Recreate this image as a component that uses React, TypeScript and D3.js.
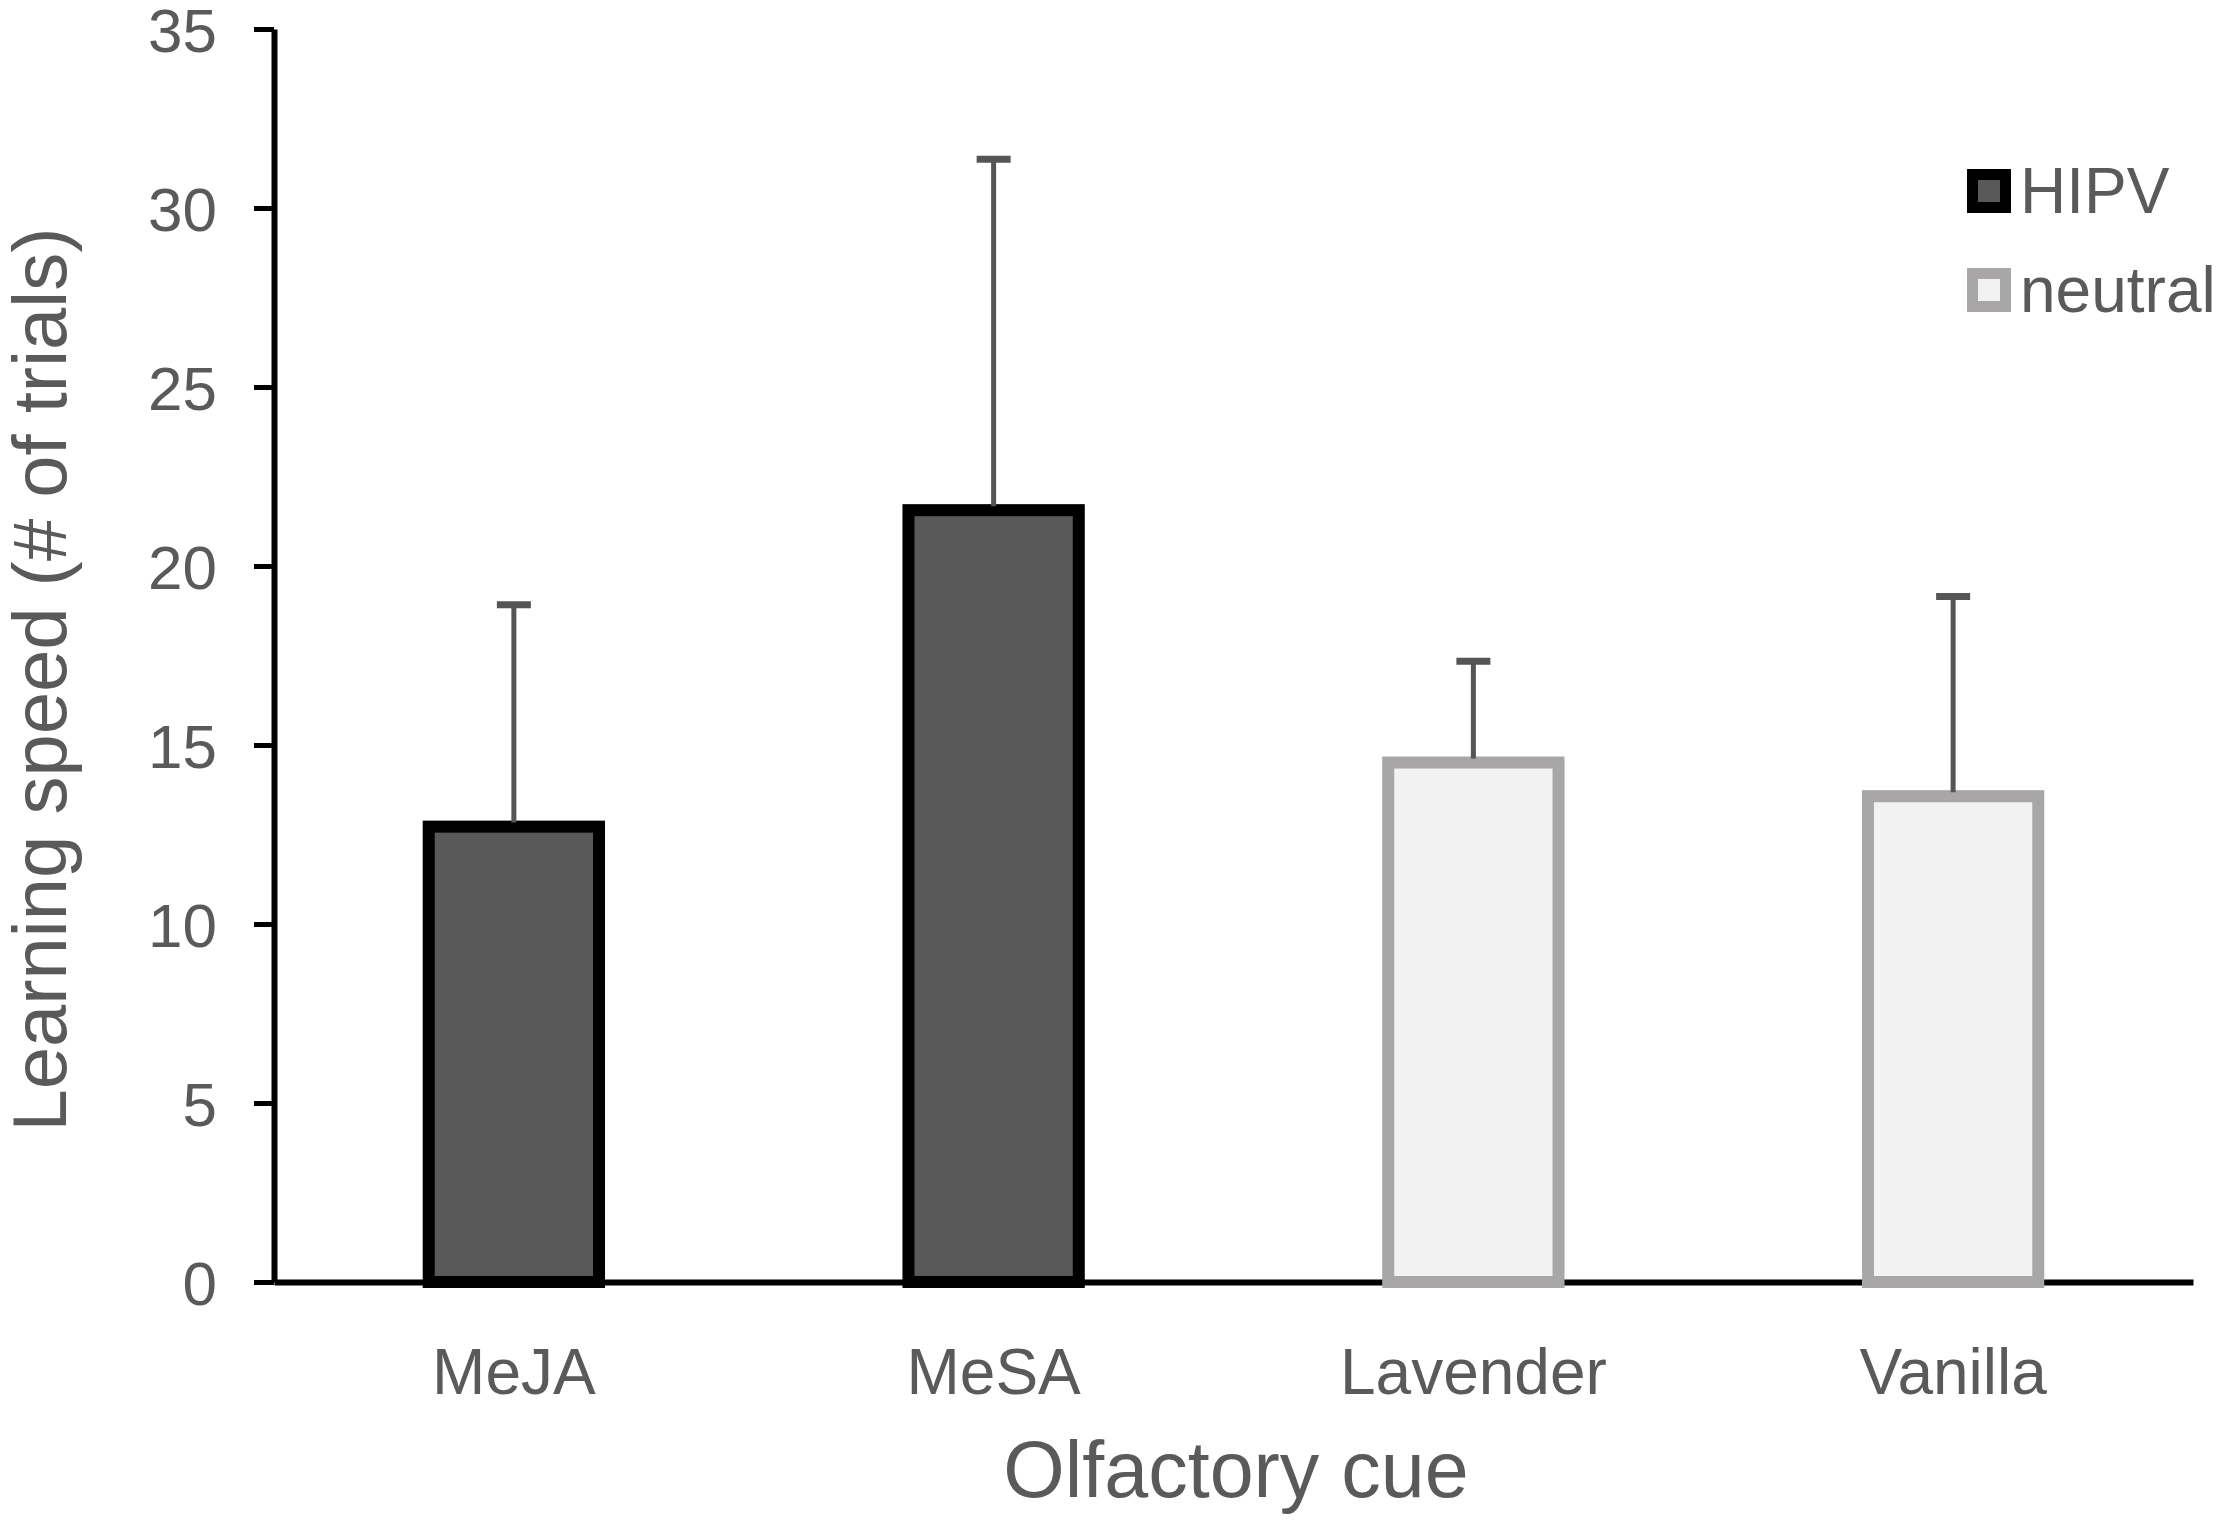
import { useEffect, useRef } from "react";
import * as d3 from "d3";

const CUES = ["MeJA", "MeSA", "Lavender", "Vanilla"];
const GROUPS = ["HIPV", "HIPV", "neutral", "neutral"];
const MEANS = [12.72, 21.56, 14.51, 13.57];
const UPPER = [18.92, 31.36, 17.34, 19.15];
const Y_TICKS = [0, 5, 10, 15, 20, 25, 30, 35];
const LEGEND = ["HIPV", "neutral"];

const FILL: Record<string, string> = { HIPV: "#595959", neutral: "#f2f2f2" };
const EDGE: Record<string, string> = { HIPV: "#000000", neutral: "#a8a6a6" };

const TEXT = "#5a5a5a";
const FONT = "'Liberation Sans', Arial, sans-serif";

export default function App() {
  const ref = useRef<SVGSVGElement | null>(null);

  useEffect(() => {
    if (!ref.current) {
      return;
    }
    document.body.style.margin = "0";

    const svg = d3.select(ref.current);
    svg.selectAll("*").remove();

    const width = 2219;
    const height = 1521;
    const margin = { top: 29, right: 26, bottom: 239, left: 274 };

    const x = d3
      .scaleBand<string>()
      .domain(CUES)
      .range([margin.left, width - margin.right])
      .paddingInner(0.645)
      .paddingOuter(0.3225);

    const y = d3
      .scaleLinear()
      .domain([0, 35])
      .range([height - margin.bottom, margin.top]);

    svg.attr("viewBox", `0 0 ${width} ${height}`);

    // y axis
    svg
      .append("g")
      .attr("transform", `translate(${margin.left},0)`)
      .call(
        d3
          .axisLeft(y)
          .tickValues(Y_TICKS)
          .tickSize(20)
          .tickSizeOuter(0)
          .tickPadding(37)
      )
      .call((g) => g.select(".domain").attr("stroke", "#000").attr("stroke-width", 6))
      .call((g) => g.selectAll(".tick line").attr("stroke", "#000").attr("stroke-width", 5))
      .call((g) =>
        g
          .selectAll("text")
          .attr("fill", TEXT)
          .style("font-family", FONT)
          .style("font-size", "62px")
          .attr("dy", "0.36em")
      );

    // x axis
    svg
      .append("g")
      .attr("transform", `translate(0,${y(0)})`)
      .call(d3.axisBottom(x).tickSize(0).tickSizeOuter(0))
      .call((g) => g.select(".domain").attr("stroke", "#000").attr("stroke-width", 6))
      .call((g) =>
        g
          .selectAll("text")
          .attr("fill", TEXT)
          .style("font-family", FONT)
          .style("font-size", "64px")
          .attr("y", 112)
          .attr("dy", 0)
      );

    // bars
    svg
      .append("g")
      .selectAll("rect")
      .data(CUES)
      .enter()
      .append("rect")
      .attr("x", (d) => x(d) ?? 0)
      .attr("y", (_, i) => y(MEANS[i]))
      .attr("width", x.bandwidth())
      .attr("height", (_, i) => y(0) - y(MEANS[i]))
      .attr("fill", (_, i) => FILL[GROUPS[i]])
      .attr("stroke", (_, i) => EDGE[GROUPS[i]])
      .attr("stroke-width", 12);

    // error bars (upper only)
    const err = svg.append("g").attr("stroke", "#555555");
    err
      .selectAll("line.stem")
      .data(CUES)
      .enter()
      .append("line")
      .attr("class", "stem")
      .attr("x1", (d) => (x(d) ?? 0) + x.bandwidth() / 2)
      .attr("x2", (d) => (x(d) ?? 0) + x.bandwidth() / 2)
      .attr("y1", (_, i) => y(MEANS[i]) - 4)
      .attr("y2", (_, i) => y(UPPER[i]))
      .attr("stroke-width", 5);
    err
      .selectAll("line.cap")
      .data(CUES)
      .enter()
      .append("line")
      .attr("class", "cap")
      .attr("x1", (d) => (x(d) ?? 0) + x.bandwidth() / 2 - 17)
      .attr("x2", (d) => (x(d) ?? 0) + x.bandwidth() / 2 + 17)
      .attr("y1", (_, i) => y(UPPER[i]))
      .attr("y2", (_, i) => y(UPPER[i]))
      .attr("stroke-width", 7);

    // axis titles
    svg
      .append("text")
      .text("Olfactory cue")
      .attr("x", 1236)
      .attr("y", 1497)
      .attr("text-anchor", "middle")
      .attr("fill", TEXT)
      .style("font-family", FONT)
      .style("font-size", "79px");

    svg
      .append("text")
      .text("Learning speed (# of trials)")
      .attr("transform", `translate(66,${(y(0) + y(35)) / 2 + 24}) rotate(-90)`)
      .attr("text-anchor", "middle")
      .attr("fill", TEXT)
      .style("font-family", FONT)
      .style("font-size", "76px");

    // legend
    const legend = svg
      .append("g")
      .selectAll("g")
      .data(LEGEND)
      .enter()
      .append("g")
      .attr("transform", (_, i) => `translate(1967,${169 + i * 99})`);
    legend
      .append("rect")
      .attr("x", 5.5)
      .attr("y", 5.5)
      .attr("width", 33)
      .attr("height", 33)
      .attr("fill", (d) => FILL[d])
      .attr("stroke", (d) => EDGE[d])
      .attr("stroke-width", 11);
    legend
      .append("text")
      .text((d) => d)
      .attr("x", 53)
      .attr("y", 44)
      .attr("fill", TEXT)
      .style("font-family", FONT)
      .style("font-size", "64px");
  }, []);

  return <svg ref={ref} width={2219} height={1521} style={{ display: "block", background: "#fff" }} />;
}
